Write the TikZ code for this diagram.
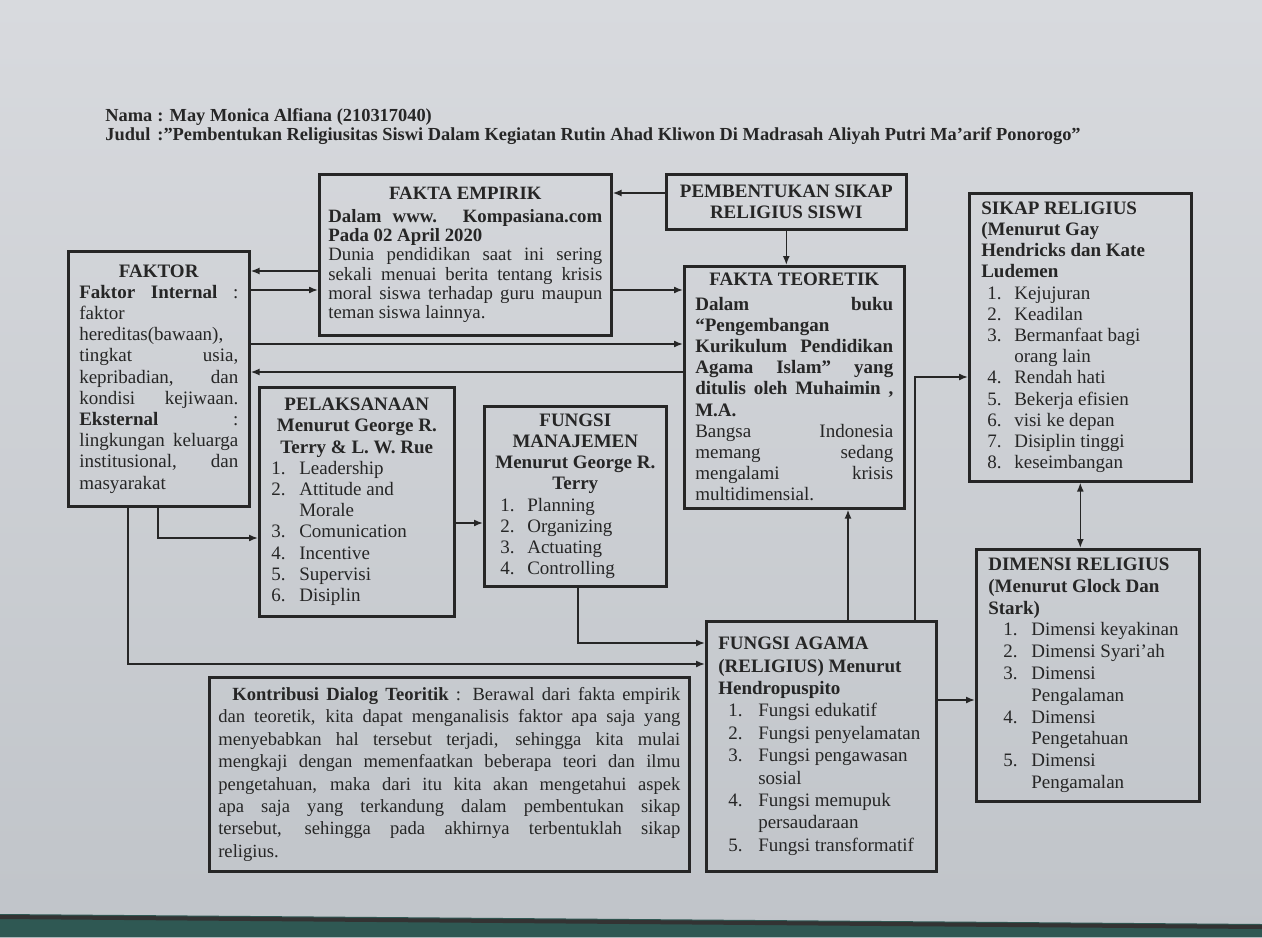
\documentclass[tikz,border=0pt]{standalone}
\usepackage{fontspec}
\setmainfont{Liberation Serif}
\usepackage{enumitem}
\usetikzlibrary{arrows.meta}
\setlist[enumerate]{nosep,label=\arabic*.,align=left,labelwidth=9pt,labelsep=!}
\hyphenpenalty=10000
\exhyphenpenalty=10000
\definecolor{ink}{HTML}{262626}
\definecolor{papertop}{HTML}{D8DADE}
\definecolor{paperbot}{HTML}{C0C4C9}
\definecolor{desk}{HTML}{2F5853}
\tikzset{
  box/.style={draw=ink, line width=1.3pt, anchor=north west, inner xsep=6pt, inner ysep=1pt,
    align=justify, text=ink, font=\fontsize{9.5}{10.6}\selectfont},
  low/.style={font=\fontsize{9.5}{11.2}\selectfont},
  link/.style={draw=ink, line width=0.8pt, -{Latex[length=4.5pt,width=3.5pt]}},
  head/.style={anchor=base west, inner sep=0pt, text=ink, font=\fontsize{9.2}{11}\selectfont\bfseries}
}
\begin{document}
\begin{tikzpicture}[x=0.5pt,y=-0.5pt]
\shade[top color=papertop, bottom color=paperbot] (0,0) rectangle (1262,937);
\useasboundingbox (0,0) rectangle (1262,937);
\fill[desk] (0,914) -- (1262,924) -- (1262,937) -- (0,937) -- cycle;
\draw[black!80, line width=2pt] (0,917) -- (1262,927);

% header
\node[head] (nama) at (105,121) {\makebox[26pt][l]{Nama}: May Monica Alfiana (210317040)};
\node[head] (judul) at (105,140) {\makebox[26pt][l]{Judul}:”Pembentukan Religiusitas Siswi Dalam Kegiatan Rutin Ahad Kliwon Di Madrasah Aliyah Putri Ma’arif Ponorogo”};

% boxes
\node[box, minimum width=146pt, minimum height=80.5pt, text width=137pt, inner xsep=4.5pt,
  font=\fontsize{9.4}{9.6}\selectfont] (empirik) at (318,173) {%
  {\centering\textbf{FAKTA EMPIRIK}\par}\vspace{2pt}
  \textbf{Dalam www. Kompasiana.com\linebreak Pada 02 April 2020}\par
  Dunia pendidikan saat ini sering\linebreak sekali menuai berita tentang krisis\linebreak
  moral siswa terhadap guru maupun\linebreak teman siswa lainnya.};
\node[box, minimum width=120pt, minimum height=27.5pt, text width=108pt] (pembentukan) at (665,173) {%
  {\centering\textbf{PEMBENTUKAN SIKAP\\RELIGIUS SISWI}\par}};
\node[box, minimum width=90.5pt, minimum height=127.5pt, text width=79.5pt, inner xsep=5.5pt] (faktor) at (67,250) {%
  {\centering\textbf{FAKTOR}\par}
  \textbf{Faktor Internal} :\linebreak faktor\\ hereditas(bawaan),\\ tingkat usia,\linebreak
  kepribadian, dan\linebreak kondisi kejiwaan.\linebreak \textbf{Eksternal} :\linebreak
  lingkungan keluarga\linebreak institusional, dan\linebreak masyarakat};
\node[box, minimum width=110pt, minimum height=121pt, text width=99pt, inner xsep=5.5pt] (teoretik) at (683,265) {%
  {\centering\textbf{FAKTA TEORETIK}\par}\vspace{1.5pt}
  \textbf{Dalam buku\linebreak “Pengembangan\\ Kurikulum Pendidikan\linebreak Agama Islam” yang\linebreak
  ditulis oleh Muhaimin ,\linebreak M.A.}\par
  Bangsa Indonesia\linebreak memang sedang\linebreak mengalami krisis\linebreak multidimensial.};
\node[box, minimum width=111pt, minimum height=144pt, text width=99pt] (sikap) at (968,192) {%
  \textbf{SIKAP RELIGIUS\\(Menurut Gay\\Hendricks dan Kate\\Ludemen}
  \begin{enumerate}[labelindent=3pt,leftmargin=16.5pt]
    \item Kejujuran
    \item Keadilan
    \item Bermanfaat bagi\\orang lain
    \item Rendah hati
    \item Bekerja efisien
    \item visi ke depan
    \item Disiplin tinggi
    \item keseimbangan
  \end{enumerate}};
\node[box, minimum width=97.5pt, minimum height=114.5pt, text width=85.5pt] (pelaksanaan) at (258,386) {%
  {\centering\textbf{PELAKSANAAN\\Menurut George R.\\Terry \& L. W. Rue}\par}
  \begin{enumerate}[labelindent=0pt,leftmargin=14pt]
    \item Leadership
    \item Attitude and\\Morale
    \item Comunication
    \item Incentive
    \item Supervisi
    \item Disiplin
  \end{enumerate}};
\node[box, minimum width=91pt, minimum height=90pt, text width=84pt, inner xsep=3.5pt] (manajemen) at (483,405) {%
  {\centering\textbf{FUNGSI\\MANAJEMEN\\Menurut George R.\\Terry}\par}
  \begin{enumerate}[labelindent=4.5pt,leftmargin=18pt]
    \item Planning
    \item Organizing
    \item Actuating
    \item Controlling
  \end{enumerate}};
\node[box, minimum width=111.5pt, minimum height=126pt, text width=99.5pt,
  font=\fontsize{9.5}{10.9}\selectfont] (dimensi) at (975,548) {%
  \textbf{DIMENSI RELIGIUS\\(Menurut Glock Dan\\Stark)}
  \begin{enumerate}[labelindent=7.5pt,leftmargin=21.5pt]
    \item Dimensi keyakinan
    \item Dimensi Syari’ah
    \item Dimensi\\Pengalaman
    \item Dimensi\\Pengetahuan
    \item Dimensi\\Pengamalan
  \end{enumerate}};
\node[box, low, minimum width=115pt, minimum height=125pt, text width=103pt] (agama) at (705,620) {%
  \textbf{FUNGSI AGAMA\\(RELIGIUS) Menurut\\Hendropuspito}
  \begin{enumerate}[labelindent=5pt,leftmargin=20pt]
    \item Fungsi edukatif
    \item Fungsi penyelamatan
    \item Fungsi pengawasan\\sosial
    \item Fungsi memupuk\\persaudaraan
    \item Fungsi transformatif
  \end{enumerate}};
\node[box, minimum width=240pt, minimum height=97pt, text width=231pt, inner xsep=4.5pt,
  font=\fontsize{9.3}{11.2}\selectfont] (kontribusi) at (208,676) {%
  \hspace*{7pt}\textbf{Kontribusi Dialog Teoritik} : Berawal dari fakta empirik\linebreak
  dan teoretik, kita dapat menganalisis faktor apa saja yang\linebreak
  menyebabkan hal tersebut terjadi, sehingga kita mulai\linebreak
  mengkaji dengan memenfaatkan beberapa teori dan ilmu\linebreak
  pengetahuan, maka dari itu kita akan mengetahui aspek\linebreak
  apa saja yang terkandung dalam pembentukan sikap\linebreak
  tersebut, sehingga pada akhirnya terbentuklah sikap\linebreak
  religius.};

% connectors
\draw[link] (pembentukan.west |- 0,193) -- (empirik.east |- 0,193);
\draw[link] (pembentukan.south) -- (pembentukan.south |- teoretik.north);
\draw[link] (empirik.west |- 0,271) -- (faktor.east |- 0,271);
\draw[link] (faktor.east |- 0,290) -- (empirik.west |- 0,290);
\draw[link] (empirik.east |- 0,290) -- (teoretik.west |- 0,290);
\draw[link] (faktor.east |- 0,344) -- (teoretik.west |- 0,344);
\draw[link] (teoretik.west |- 0,372) -- (faktor.east |- 0,372);
\draw[link] (faktor.south -| 158,0) |- (pelaksanaan.west |- 0,538);
\draw[link] (faktor.south -| 128,0) |- (agama.west |- 0,664);
\draw[link] (pelaksanaan.east |- 0,523) -- (manajemen.west |- 0,523);
\draw[link] (manajemen.south -| 578,0) |- (agama.west |- 0,643);
\draw[link] (agama.north -| 848,0) -- (teoretik.south -| 848,0);
\draw[link] (agama.north -| 915,0) |- (sikap.west |- 0,377);
\draw[link] (agama.east |- 0,700) -- (dimensi.west |- 0,700);
\draw[link, {Latex[length=4.5pt,width=3.5pt]}-{Latex[length=4.5pt,width=3.5pt]}] (sikap.south) -- (sikap.south |- dimensi.north);
\end{tikzpicture}
\end{document}
